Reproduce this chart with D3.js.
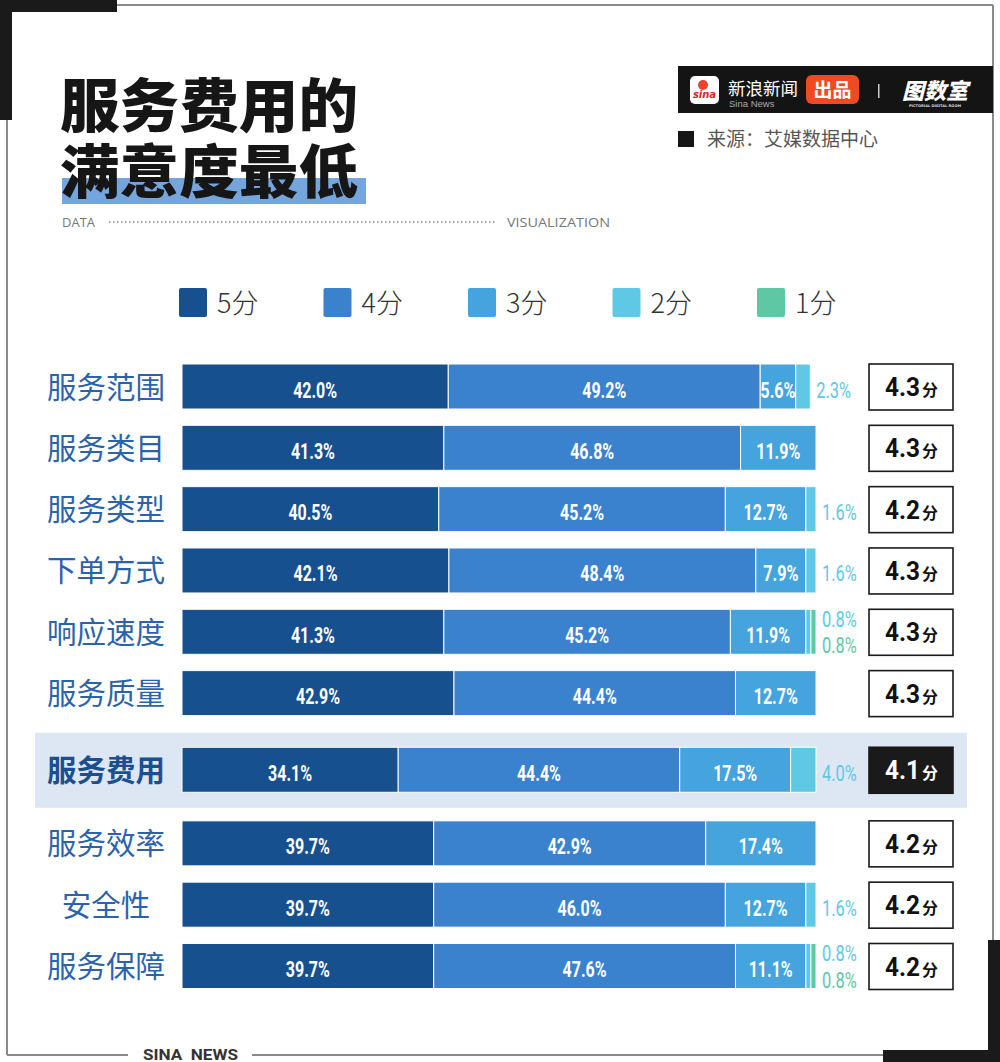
<!DOCTYPE html>
<html><head><meta charset="utf-8">
<script src="https://cdn.jsdelivr.net/npm/d3@7"></script>
<style>
html,body{margin:0;padding:0;background:#fff;}
svg{display:block;}
</style></head>
<body>
<svg id="chart" width="1000" height="1062"></svg>
<script>
const categories = ["服务范围","服务类目","服务类型","下单方式","响应速度","服务质量","服务费用","服务效率","安全性","服务保障"];
const scoreLevels = ["5分","4分","3分","2分","1分"];
const score5 = [42.0,41.3,40.5,42.1,41.3,42.9,34.1,39.7,39.7,39.7];
const score4 = [49.2,46.8,45.2,48.4,45.2,44.4,44.4,42.9,46.0,47.6];
const score3 = [5.6,11.9,12.7,7.9,11.9,12.7,17.5,17.4,12.7,11.1];
const score2 = [2.3,0,1.6,1.6,0.8,0,4.0,0,1.6,0.8];
const score1 = [0,0,0,0,0.8,0,0,0,0,0.8];
const avgScores = ["4.3","4.3","4.2","4.3","4.3","4.3","4.1","4.2","4.2","4.2"];
const highlightCategory = "服务费用";
const colors = ["#17508f","#3b82ce","#45a3dd","#5ec8e5","#5ec8a4"];

const svg = d3.select("#chart");
const CJK = "'Noto Sans CJK SC','Noto Sans',sans-serif";
const NUM = "Roboto,'Liberation Sans',sans-serif";

// ---------- frame ----------
const frame = svg.append("g");
const gray = "#8a8a8a";
frame.append("line").attr("x1",117).attr("y1",5).attr("x2",993).attr("y2",5).attr("stroke",gray).attr("stroke-width",2);
frame.append("line").attr("x1",7).attr("y1",118).attr("x2",7).attr("y2",1055).attr("stroke",gray).attr("stroke-width",2);
frame.append("line").attr("x1",993).attr("y1",5).attr("x2",993).attr("y2",942).attr("stroke",gray).attr("stroke-width",2);
frame.append("line").attr("x1",7).attr("y1",1055).attr("x2",128).attr("y2",1055).attr("stroke",gray).attr("stroke-width",2);
frame.append("line").attr("x1",252).attr("y1",1055).attr("x2",885).attr("y2",1055).attr("stroke",gray).attr("stroke-width",2);
frame.append("rect").attr("x",0).attr("y",0).attr("width",117).attr("height",12).attr("fill","#1a1a1a");
frame.append("rect").attr("x",0).attr("y",0).attr("width",12).attr("height",120).attr("fill","#1a1a1a");
frame.append("rect").attr("x",883).attr("y",1050).attr("width",117).attr("height",12).attr("fill","#1a1a1a");
frame.append("rect").attr("x",988).attr("y",940).attr("width",12).attr("height",122).attr("fill","#1a1a1a");
frame.append("text").attr("x",143).attr("y",1060)
  .attr("font-family",NUM).attr("font-size",14).attr("font-weight",700).attr("fill","#333")
  .attr("textLength",95).attr("lengthAdjust","spacingAndGlyphs").text("SINA\u00a0\u00a0NEWS");

// ---------- title ----------
svg.append("rect").attr("x",62).attr("y",178).attr("width",304).attr("height",26).attr("fill","#74a5dc");
svg.append("text").attr("x",60).attr("y",127).attr("font-family",CJK).attr("font-weight",900).attr("font-size",58)
  .attr("fill","#161616").attr("textLength",298).attr("lengthAdjust","spacingAndGlyphs").text("服务费用的");
svg.append("text").attr("x",60).attr("y",193).attr("font-family",CJK).attr("font-weight",900).attr("font-size",58)
  .attr("fill","#161616").attr("textLength",298).attr("lengthAdjust","spacingAndGlyphs").text("满意度最低");
svg.append("text").attr("x",62).attr("y",227).attr("font-family","'Open Sans',sans-serif").attr("font-size",13).attr("fill","#777").text("DATA");
svg.append("line").attr("x1",109).attr("y1",222).attr("x2",495).attr("y2",222)
  .attr("stroke","#888").attr("stroke-width",1.5).attr("stroke-dasharray","1.5,2.5");
svg.append("text").attr("x",507).attr("y",227).attr("font-family","'Open Sans',sans-serif").attr("font-size",13).attr("fill","#777")
  .attr("textLength",103).attr("lengthAdjust","spacingAndGlyphs").text("VISUALIZATION");

// ---------- header logo ----------
const hdr = svg.append("g");
hdr.append("rect").attr("x",678).attr("y",66).attr("width",315).attr("height",47).attr("fill","#141414");
hdr.append("rect").attr("x",690).attr("y",76).attr("width",29).attr("height",28).attr("rx",5).attr("fill","#fff");
hdr.append("circle").attr("cx",703).attr("cy",85).attr("r",5).attr("fill","#e8432e");
hdr.append("text").attr("x",704.5).attr("y",98).attr("text-anchor","middle").attr("font-family","'DejaVu Sans',sans-serif")
  .attr("font-style","italic").attr("font-weight",700).attr("font-size",10).attr("fill","#d8262c").text("sina");
hdr.append("text").attr("x",728).attr("y",95).attr("font-family",CJK).attr("font-size",17.5).attr("fill","#fff").text("新浪新闻");
hdr.append("text").attr("x",729).attr("y",107).attr("font-family","'Liberation Sans',sans-serif").attr("font-size",9.5).attr("fill","#aaa").text("Sina News");
hdr.append("rect").attr("x",806).attr("y",75).attr("width",53).attr("height",29).attr("rx",6).attr("fill","#f04a22");
hdr.append("text").attr("x",832.5).attr("y",97).attr("text-anchor","middle").attr("font-family",CJK).attr("font-weight",700).attr("font-size",19).attr("fill","#fff").text("出品");
hdr.append("rect").attr("x",878).attr("y",84).attr("width",1.5).attr("height",14).attr("fill","#ccc");
hdr.append("text").attr("x",935).attr("y",99).attr("text-anchor","middle").attr("font-family",CJK).attr("font-weight",900)
  .attr("font-style","italic").attr("font-size",22).attr("fill","#fff").text("图数室");
hdr.append("text").attr("x",935).attr("y",107).attr("text-anchor","middle").attr("font-family","'DejaVu Sans',sans-serif").attr("font-weight",700)
  .attr("font-size",3.6).attr("fill","#ddd").text("PICTORIAL DIGITAL ROOM");
svg.append("rect").attr("x",678).attr("y",131).attr("width",16).attr("height",16).attr("fill","#161616");
svg.append("text").attr("x",707).attr("y",146).attr("font-family",CJK).attr("font-size",19).attr("fill","#555").text("来源：艾媒数据中心");

// ---------- legend ----------
const legend = svg.append("g").selectAll("g").data(scoreLevels).join("g")
  .attr("transform",(d,i)=>`translate(${179 + i*144.5},288)`);
legend.append("rect").attr("width",28).attr("height",29).attr("rx",2).attr("fill",(d,i)=>colors[i]);
legend.append("text").attr("x",38).attr("y",25).attr("font-family",CJK).attr("font-weight",300)
  .attr("font-size",27).attr("fill","#333").text(d=>d);

// ---------- chart ----------
const series = [score5,score4,score3,score2,score1];
const rows = categories.map((c,i)=>{
  let acc = 0;
  const segs = series.map((s,k)=>{ const seg={k,v:s[i],x0:acc,x1:acc+s[i]}; acc+=s[i]; return seg; });
  return {cat:c,i,segs,score:avgScores[i],hl:c===highlightCategory};
});
const x = d3.scaleLinear().domain([0,100]).range([182,816]);
const hlIndex = categories.indexOf(highlightCategory);
const slot = i => i + (i>=hlIndex?0.25:0) + (i>hlIndex?0.2:0);
const y = d3.scaleLinear().domain([0,slot(categories.length-1)]).range([386.5,966]);
const barH = 45;

// highlight band
svg.append("rect").attr("x",35).attr("y",y(slot(hlIndex))-37).attr("width",932).attr("height",75).attr("fill","#dde7f3");

const rowG = svg.append("g").selectAll("g").data(rows).join("g")
  .attr("transform",d=>`translate(0,${y(slot(d.i))})`);

rowG.append("text").attr("x",106).attr("y",11).attr("text-anchor","middle")
  .attr("font-family",CJK).attr("font-size",29.5)
  .attr("font-weight",d=>d.hl?700:400).attr("fill",d=>d.hl?"#1c4f8f":"#2b63aa").text(d=>d.cat);

rowG.selectAll("rect.seg").data(d=>d.segs.filter(s=>s.v>0)).join("rect").attr("class","seg")
  .attr("x",s=>x(s.x0)).attr("width",s=>x(s.x1)-x(s.x0)).attr("y",-barH/2).attr("height",barH)
  .attr("fill",s=>colors[s.k]).attr("stroke","#fff").attr("stroke-width",1);

// inside labels
const pct = v => v.toFixed(1)+"%";
rowG.selectAll("text.in").data(d=>d.segs.filter(s=>s.v>=5)).join("text").attr("class","in")
  .attr("x",s=>(x(s.x0)+x(s.x1))/2).attr("y",11).attr("text-anchor","middle")
  .attr("font-family",NUM).attr("font-weight",700).attr("font-size",22).attr("fill","#fff")
  .attr("textLength",s=>pct(s.v).length*8.8).attr("lengthAdjust","spacingAndGlyphs")
  .text(s=>pct(s.v));

// outside labels
rowG.each(function(d){
  const small = d.segs.filter(s=>s.v>0 && s.v<5);
  const endX = x(d.segs[4].x1) + 6;
  const g = d3.select(this);
  small.forEach((s,j)=>{
    const yy = small.length===1 ? 11 : (j===0 ? -5 : 21.5);
    g.append("text").attr("x",endX).attr("y",yy)
      .attr("font-family",NUM).attr("font-size",22).attr("fill",colors[s.k])
      .attr("textLength",pct(s.v).length*8.7).attr("lengthAdjust","spacingAndGlyphs")
      .text(pct(s.v));
  });
});

// score boxes
rowG.append("rect").attr("x",869).attr("y",-22.5).attr("width",84).attr("height",46)
  .attr("fill",d=>d.hl?"#1a1a1a":"#fff").attr("stroke","#1a1a1a").attr("stroke-width",1.6);
rowG.append("text").attr("x",885).attr("y",9.5)
  .attr("font-family",NUM).attr("font-weight",700).attr("font-size",26)
  .attr("textLength",35).attr("lengthAdjust","spacingAndGlyphs")
  .attr("fill",d=>d.hl?"#fff":"#111").text(d=>d.score);
rowG.append("text").attr("x",922).attr("y",9.5)
  .attr("font-family",CJK).attr("font-weight",700).attr("font-size",16)
  .attr("fill",d=>d.hl?"#fff":"#111").text("分");
</script>
</body></html>
